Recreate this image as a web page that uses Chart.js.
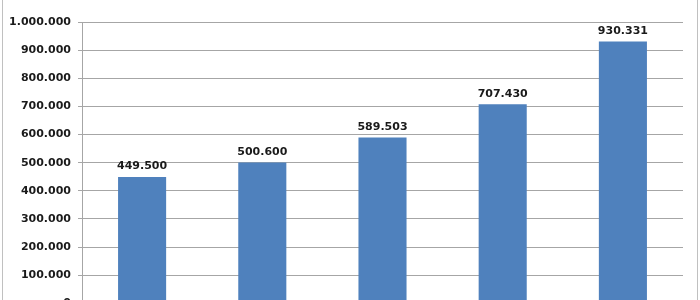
<!DOCTYPE html>
<html>
<head>
<meta charset="utf-8">
<script src="https://cdn.jsdelivr.net/npm/chart.js@4"></script>
<style>
  html, body { margin: 0; padding: 0; background: #ffffff; }
  body { width: 700px; height: 300px; overflow: hidden; position: relative; }
  #wrap { position: absolute; left: 0; top: 0; width: 700px; height: 317px; }
  #c { display: block; width: 700px; height: 317px; }
  .edge { position: absolute; top: 0; width: 1px; height: 300px; background: #c0c0c0; }
</style>
</head>
<body>
<div id="wrap"><canvas id="c" width="700" height="317"></canvas></div>
<div class="edge" style="left:2px"></div>
<div class="edge" style="left:697px"></div>
<script>
const categories = ['1', '2', '3', '4', '5'];
const values = [449500, 500600, 589503, 707430, 930331];
const yTickMin = 0;
const yTickMax = 1000000;
const yTickStep = 100000;

function fmt(v) {
  return String(Math.round(v)).replace(/\B(?=(\d{3})+(?!\d))/g, '.');
}

const labelFont = 'bold 11px "DejaVu Sans"';

const dataLabels = {
  id: 'dataLabels',
  afterDatasetsDraw(chart) {
    const ctx = chart.ctx;
    const meta = chart.getDatasetMeta(0);
    ctx.save();
    ctx.font = labelFont;
    ctx.fillStyle = '#1a1a1a';
    ctx.textAlign = 'center';
    ctx.textBaseline = 'bottom';
    meta.data.forEach((el, i) => {
      ctx.fillText(fmt(chart.data.datasets[0].data[i]), el.x, el.y - 5);
    });
    ctx.restore();
  }
};

new Chart(document.getElementById('c'), {
  type: 'bar',
  data: {
    labels: categories,
    datasets: [{
      data: values,
      backgroundColor: '#4f81bd',
      borderWidth: 0,
      categoryPercentage: 1.0,
      barPercentage: 0.4
    }]
  },
  options: {
    responsive: false,
    animation: false,
    devicePixelRatio: 1,
    layout: { padding: { top: 22, right: 17, bottom: 0, left: 0 } },
    plugins: { legend: { display: false }, tooltip: { enabled: false } },
    scales: {
      x: { display: false },
      y: {
        min: yTickMin,
        max: yTickMax,
        afterFit(scale) { scale.width = 82; },
        ticks: {
          stepSize: yTickStep,
          padding: 7,
          color: '#1a1a1a',
          font: { family: 'DejaVu Sans', size: 11, weight: 'bold' },
          callback: (v) => fmt(v)
        },
        grid: { color: '#a6a6a6', lineWidth: 1, tickLength: 4, drawTicks: true },
        border: { display: true, color: '#a6a6a6', width: 1 }
      }
    }
  },
  plugins: [dataLabels]
});
</script>
</body>
</html>
